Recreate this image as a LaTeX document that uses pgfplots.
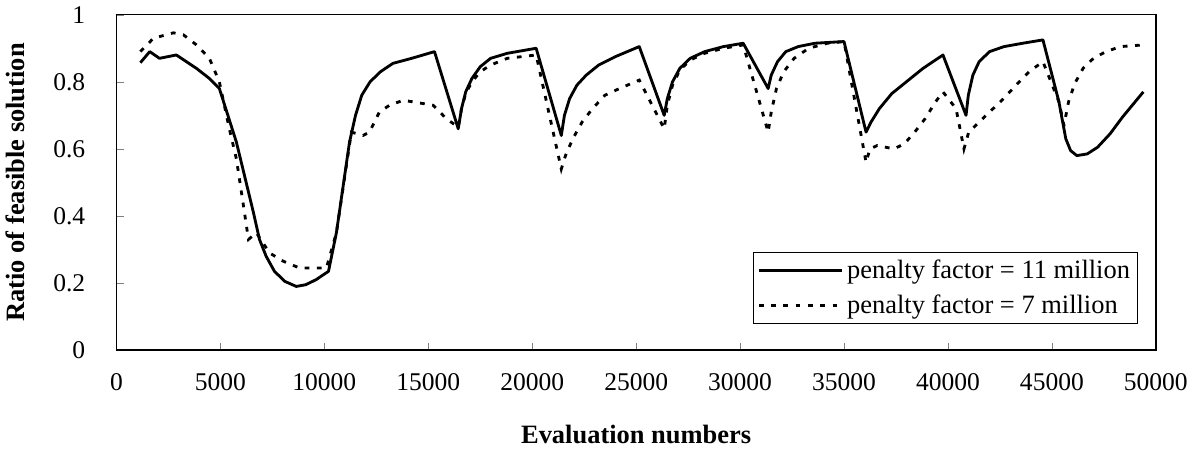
\documentclass[border=0pt]{standalone}
\usepackage{pgfplots}
\pgfplotsset{compat=1.18}
\usepackage{fontspec}
\setmainfont{Liberation Serif}

\begin{document}
\begin{tikzpicture}

% solid: penalty factor = 11 million
% dashed: penalty factor = 7 million
\begin{axis}[
    scale only axis,
    width=550pt,
    height=177.5pt,
    xmin=0, xmax=50000,
    ymin=0, ymax=1,
    xtick={0,5000,...,50000},
    ytick={0,0.2,...,1},
    scaled ticks=false,
    tick align=inside,
    xtick pos=bottom,
    ytick pos=left,
    major tick length=4pt,
    /pgf/number format/1000 sep={},
    /pgf/number format/assume math mode=true,
    tick label style={font=\fontsize{13.5}{15}\selectfont},
    xticklabel style={yshift=-9pt},
    yticklabel style={xshift=-13pt},
    xlabel={\textbf{Evaluation numbers}},
    ylabel={\textbf{Ratio of feasible solution}},
    label style={font=\fontsize{14}{16}\selectfont},
    xlabel style={yshift=-11pt},
    ylabel style={yshift=8pt},
    axis line style={line width=0.8pt},
    legend cell align=left,
    legend style={
        at={(0.983,0.078)}, anchor=south east,
        font=\fontsize{14}{16}\selectfont,
        draw=black, line width=0.6pt,
        inner sep=2pt, row sep=3pt,
    },
    legend image code/.code={
        \draw[#1] (0pt,0pt) -- (44pt,0pt);
    },
]

\addplot[black, line width=1.5pt, line join=round] coordinates {
    (1150,0.857) (1600,0.89) (2070,0.87) (2880,0.88) (3850,0.84)
    (4470,0.81) (4950,0.78) (5770,0.62) (6590,0.41) (6880,0.33)
    (7200,0.28) (7600,0.235) (8100,0.205) (8650,0.19) (9100,0.195)
    (9600,0.21) (10200,0.235) (10580,0.35)
    (11210,0.62) (11500,0.70) (11800,0.76) (12200,0.80) (12700,0.83)
    (13300,0.855) (14200,0.87) (15300,0.89)
    (16440,0.66) (16600,0.72) (16800,0.77) (17100,0.81) (17500,0.845)
    (18000,0.87) (18800,0.885) (20190,0.90)
    (21400,0.64) (21550,0.70) (21800,0.75) (22150,0.79) (22600,0.82)
    (23200,0.85) (24000,0.875) (25150,0.905)
    (26350,0.70) (26500,0.75) (26750,0.80) (27100,0.84) (27600,0.87)
    (28300,0.89) (29200,0.905) (30150,0.915)
    (31350,0.78) (31500,0.82) (31800,0.86) (32200,0.89) (32800,0.905)
    (33600,0.915) (35000,0.92)
    (36060,0.65) (36300,0.68) (36700,0.72) (37300,0.765) (38000,0.80)
    (38800,0.84) (39760,0.88)
    (40870,0.70) (40980,0.76) (41200,0.82) (41500,0.86) (42000,0.89)
    (42700,0.905) (43600,0.915) (44570,0.925)
    (45340,0.74) (45670,0.63) (45900,0.595) (46200,0.58) (46700,0.585)
    (47200,0.605) (47800,0.645) (48400,0.695) (49000,0.74) (49400,0.77)
};
\addlegendentry{penalty factor = 11 million}

\addplot[black, line width=1.5pt, dash pattern=on 2.5pt off 4pt] coordinates {
    (1150,0.89) (1780,0.93) (2740,0.946) (3220,0.94) (3850,0.91)
    (4470,0.87) (4950,0.80) (5430,0.66) (5770,0.57) (6110,0.43)
    (6350,0.33) (6730,0.35) (7360,0.29) (8030,0.265) (8800,0.245)
    (10100,0.245) (10580,0.35) (11300,0.65) (11860,0.64) (12170,0.65)
    (12650,0.71) (13130,0.73) (13800,0.745) (14570,0.737) (15240,0.73)
    (15870,0.69) (16440,0.665)
    (16600,0.72) (16800,0.765) (17100,0.80) (17500,0.83) (18000,0.85)
    (18800,0.87) (20190,0.88)
    (21400,0.54) (21600,0.58) (21950,0.63) (22400,0.68) (22900,0.72)
    (23500,0.76) (24200,0.78) (25150,0.805)
    (26350,0.66) (26500,0.73) (26750,0.79) (27100,0.835) (27600,0.865)
    (28300,0.885) (29200,0.90) (30150,0.91)
    (31350,0.65) (31500,0.71) (31750,0.78) (32100,0.83) (32600,0.87)
    (33300,0.90) (34200,0.915) (35000,0.92)
    (36060,0.56) (36250,0.60) (36600,0.61) (37000,0.605) (37400,0.60)
    (37900,0.615) (38400,0.65) (38900,0.69) (39400,0.74) (39760,0.77)
    (40390,0.72) (40770,0.60) (41000,0.65) (41500,0.68) (42000,0.71)
    (42600,0.745) (43200,0.785) (43900,0.83) (44570,0.86)
    (45340,0.74) (45580,0.67) (45800,0.74) (46100,0.795) (46500,0.84)
    (47000,0.87) (47600,0.89) (48300,0.905) (49400,0.91)
};
\addlegendentry{penalty factor = 7 million}

\end{axis}
\end{tikzpicture}
\end{document}
